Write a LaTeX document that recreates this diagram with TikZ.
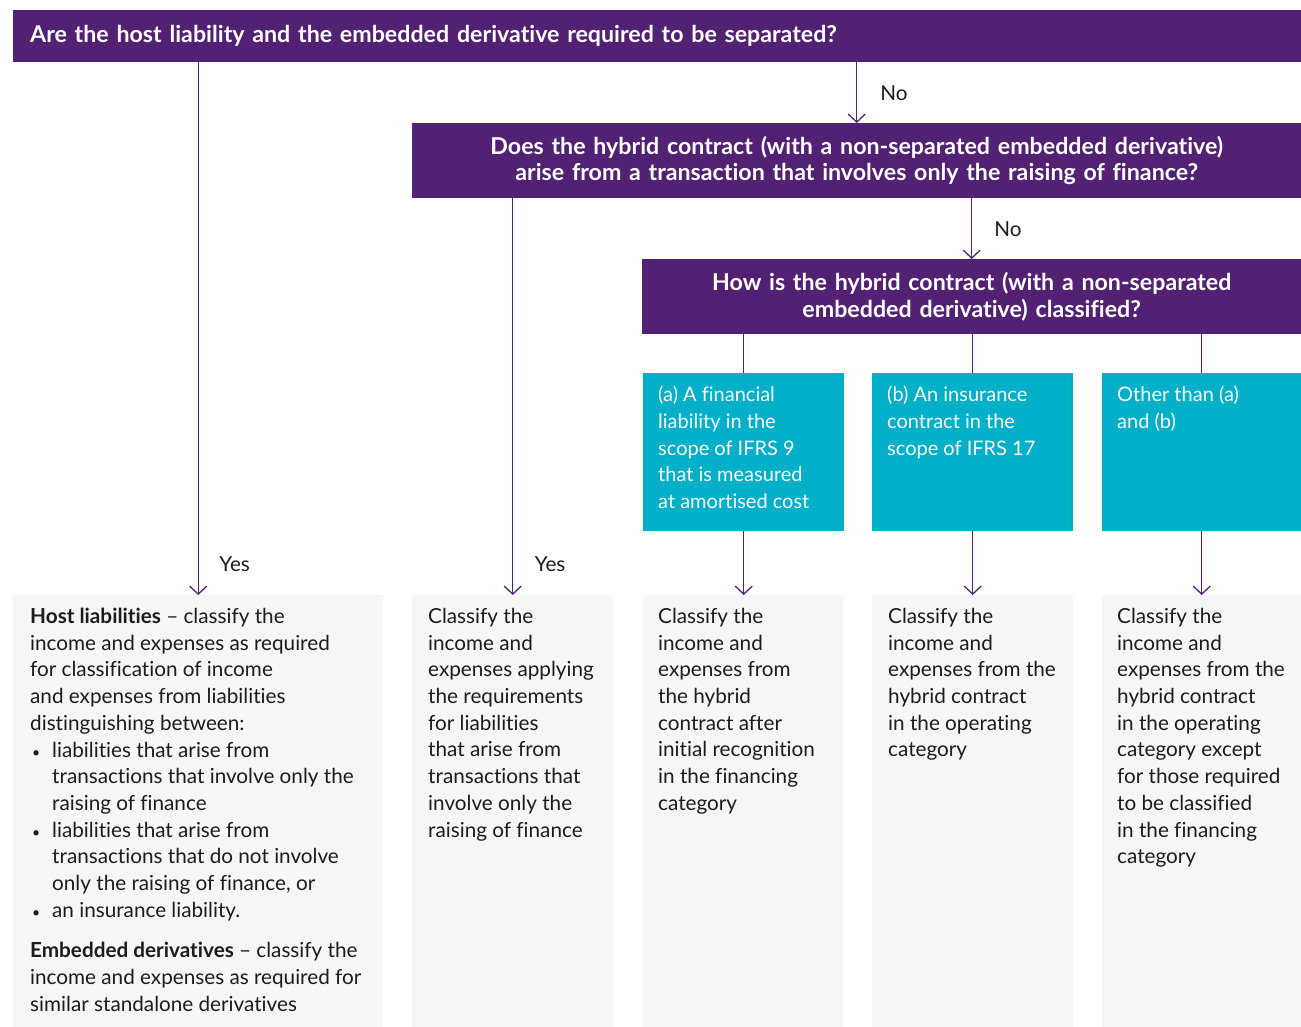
\documentclass[tikz,border=0pt]{standalone}
\usepackage{fontspec}
\setmainfont{Lato}[Ligatures=NoCommon]
\usetikzlibrary{arrows.meta}
\definecolor{kpurple}{RGB}{82,33,115}
\definecolor{kcyan}{RGB}{0,175,200}
\definecolor{kgrey}{RGB}{245,247,246}
\definecolor{ktext}{RGB}{28,28,28}
\newcommand{\bodyfont}{\fontsize{20.7}{26.7}\selectfont}
\newcommand{\cyanfont}{\fontsize{20}{26.7}\selectfont}
\newcommand{\barfont}{\fontsize{23.2}{26.5}\selectfont\bfseries}
\newcommand{\bul}{\hspace*{2pt}\makebox[20pt][l]{\fontsize{14}{14}\selectfont\textbullet}}
\newcommand{\ind}{\hspace*{22pt}}
\tikzset{
  qbar/.style={fill=kpurple, text=white, font=\barfont, inner sep=0pt, anchor=north west},
  cbox/.style={fill=kcyan, inner sep=0pt, anchor=north west, minimum width=201pt, minimum height=158pt},
  rbox/.style={fill=kgrey, inner sep=0pt, anchor=north west, minimum height=432pt},
  ctext/.style={text=white, font=\cyanfont, align=left, inner sep=0pt, anchor=north west},
  btext/.style={text=ktext, font=\bodyfont, align=left, inner sep=0pt, anchor=north west},
  lbl/.style={text=ktext, font=\bodyfont, inner sep=0pt, anchor=west},
  arr/.style={draw=kpurple, line width=1.3pt, -{Straight Barb[length=8pt,width=17pt]}},
  link/.style={draw=kpurple, line width=1.3pt}
}
\begin{document}
\begin{tikzpicture}[x=1pt,y=-1pt]  % ------ pixel grid, y down ---------------
    \useasboundingbox (0,0) rectangle (1301,1027);

    % ------ questions ---------------
    \node[qbar, minimum width=1288pt, minimum height=52pt, text width=1254pt,
          inner xsep=17pt, align=left] (q1) at (13,10)
      {Are the host liability and the embedded derivative required to be separated?};
    \node[qbar, minimum width=889pt, minimum height=75pt, text width=889pt, align=center] (q2) at (412,123)
      {Does the hybrid contract (with a non-separated embedded derivative)\\
       arise from a transaction that involves only the raising of finance?};
    \node[qbar, minimum width=659pt, minimum height=75pt, text width=659pt, align=center] (q3) at (642,259)
      {How is the hybrid contract (with a non-separated\\
       embedded derivative) classified?};

    % ------ classification ---------------
    \node[cbox] (c1) at (643,373) {};
    \node[cbox] (c2) at (872,373) {};
    \node[cbox, minimum width=199pt] (c3) at (1102,373) {};
    \node[ctext] at ([shift={(15,13)}]c1.north west)
      {(a) A financial\\ liability in the\\ scope of IFRS 9\\ that is measured\\ at amortised cost};
    \node[ctext] at ([shift={(15,13)}]c2.north west)
      {(b) An insurance\\ contract in the\\ scope of IFRS 17};
    \node[ctext] at ([shift={(15,13)}]c3.north west)
      {Other than (a)\\ and (b)};

    % ------ results ---------------
    \node[rbox, minimum width=370pt] (r1) at (13,595) {};
    \node[rbox, minimum width=201pt] (r2) at (412,595) {};
    \node[rbox, minimum width=200pt] (r3) at (643,595) {};
    \node[rbox, minimum width=201pt] (r4) at (872,595) {};
    \node[rbox, minimum width=199pt] (r5) at (1102,595) {};

    \node[btext] at ([shift={(17,13)}]r1.north west)
      {\textbf{Host liabilities} – classify the\\
       income and expenses as required\\
       for classification of income\\
       and expenses from liabilities\\
       distinguishing between:\\
       \bul liabilities that arise from\\
       \ind transactions that involve only the\\
       \ind raising of finance\\
       \bul liabilities that arise from\\
       \ind transactions that do not involve\\
       \ind only the raising of finance, or\\
       \bul an insurance liability.\\[14pt]
       \textbf{Embedded derivatives} – classify the\\
       income and expenses as required for\\
       similar standalone derivatives};
    \node[btext] at ([shift={(16,13)}]r2.north west)
      {Classify the\\ income and\\ expenses applying\\ the requirements\\ for liabilities\\
       that arise from\\ transactions that\\ involve only the\\ raising of finance};
    \node[btext] at ([shift={(15,13)}]r3.north west)
      {Classify the\\ income and\\ expenses from\\ the hybrid\\ contract after\\
       initial recognition\\ in the financing\\ category};
    \node[btext] at ([shift={(16,13)}]r4.north west)
      {Classify the\\ income and\\ expenses from the\\ hybrid contract\\ in the operating\\ category};
    \node[btext] at ([shift={(15,13)}]r5.north west)
      {Classify the\\ income and\\ expenses from the\\ hybrid contract\\ in the operating\\
       category except\\ for those required\\ to be classified\\ in the financing\\ category};

    % ------ connectors ---------------
    \draw[arr] (q1.south -| r1.north) -- (r1.north);
    \draw[arr] (q1.south -| q2.north) -- node[lbl, xshift=23pt] {No} (q2.north);
    \draw[arr] (q2.south -| r2.north) -- (r2.north);
    \draw[arr] (q2.south -| q3.north) -- node[lbl, xshift=22pt] {No} (q3.north);
    \node[lbl] at ([shift={(21,-31)}]r1.north) {Yes};
    \node[lbl] at ([shift={(22,-31)}]r2.north) {Yes};
    \foreach \k in {1,2,3} {
      \draw[link] (q3.south -| c\k.north) -- (c\k.north);
      \draw[arr] (c\k.south) -- (r\k.north -| c\k.south);
    }
\end{tikzpicture}
\end{document}
